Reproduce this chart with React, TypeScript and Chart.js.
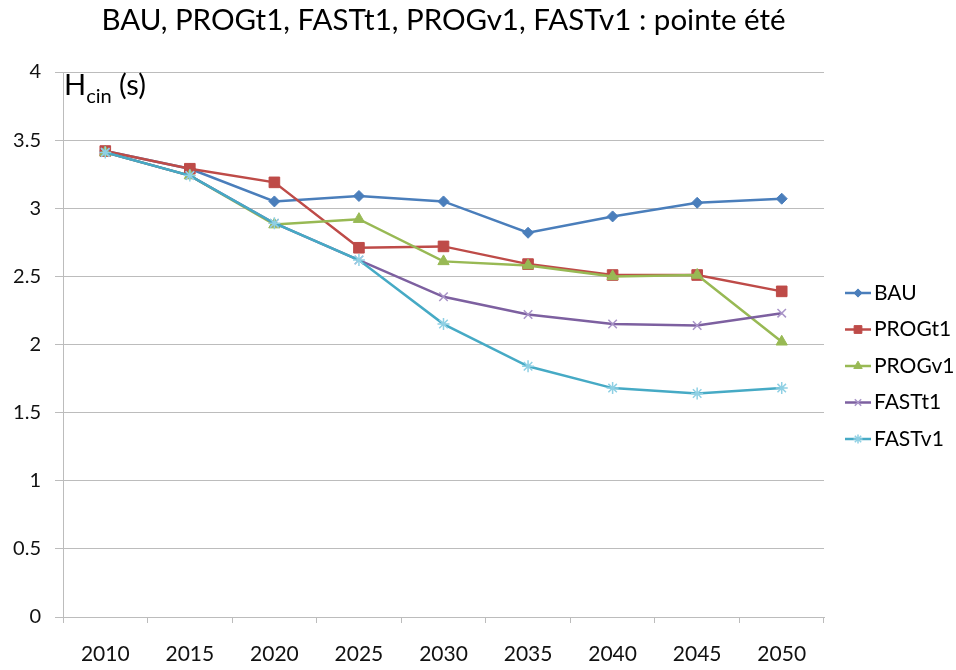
import React, { useEffect, useRef } from 'react';
import { Chart, registerables } from 'chart.js';
import { drawPoint } from 'chart.js/helpers';

Chart.register(...registerables);

const years = ['2010', '2015', '2020', '2025', '2030', '2035', '2040', '2045', '2050'];
const seriesNames = ['BAU', 'PROGt1', 'PROGv1', 'FASTt1', 'FASTv1'];
const bau = [3.42, 3.29, 3.05, 3.09, 3.05, 2.82, 2.94, 3.04, 3.07];
const progT1 = [3.42, 3.29, 3.19, 2.71, 2.72, 2.59, 2.51, 2.51, 2.39];
const progV1 = [3.41, 3.24, 2.88, 2.92, 2.61, 2.58, 2.50, 2.51, 2.02];
const fastT1 = [3.41, 3.24, 2.89, 2.62, 2.35, 2.22, 2.15, 2.14, 2.23];
const fastV1 = [3.41, 3.24, 2.89, 2.62, 2.15, 1.84, 1.68, 1.64, 1.68];
const titleText = 'BAU, PROGt1, FASTt1, PROGv1, FASTv1 : pointe été';

const FONT = 'Lato, "Open Sans", sans-serif';
const GRID = '#bcbcbc';

const lineColors = ['#4A7EBB', '#BE4B48', '#98B954', '#7D60A0', '#46AAC5'];
const pointColors = ['#4A7EBB', '#BE4B48', '#98B954', '#a994c8', '#8fd0e4'];
const pointStyles = ['rectRot', 'rect', 'triangle', 'crossRot', 'star'];
const pointRadii = [5.5, 7.5, 6.5, 6, 6];
const pointBorderWidths = [1, 1, 1, 1.5, 1.5];

const LEGEND_FONT = 21;
const LEGEND_PAD = 15.5;
const LEGEND_BOX = 24;

const yTitlePlugin = {
  id: 'yTitle',
  afterDraw(chart: any) {
    const ctx = chart.ctx;
    const { left, top } = chart.chartArea;
    ctx.save();
    ctx.fillStyle = '#000';
    ctx.textBaseline = 'alphabetic';
    ctx.textAlign = 'left';
    let x = left + 1;
    const base = top + 23;
    ctx.font = `29px ${FONT}`;
    ctx.fillText('H', x, base);
    x += ctx.measureText('H').width;
    ctx.font = `20px ${FONT}`;
    ctx.fillText('cin', x, base + 8);
    x += ctx.measureText('cin').width;
    ctx.font = `29px ${FONT}`;
    ctx.fillText(' (s)', x, base);
    ctx.restore();
  },
};

const legendMarkerPlugin = {
  id: 'legendMarkers',
  afterDraw(chart: any) {
    const legend = chart.legend;
    if (!legend || !legend.legendHitBoxes) return;
    const ctx = chart.ctx;
    legend.legendItems.forEach((item: any, i: number) => {
      const hb = legend.legendHitBoxes[i];
      if (!hb) return;
      const di = item.datasetIndex;
      const cy = hb.top + LEGEND_FONT / 2;
      const x0 = hb.left + 5.5;
      const x1 = hb.left + 31.5;
      ctx.save();
      ctx.strokeStyle = lineColors[di];
      ctx.lineWidth = 2.5;
      ctx.beginPath();
      ctx.moveTo(x0, cy);
      ctx.lineTo(x1, cy);
      ctx.stroke();
      ctx.fillStyle = pointColors[di];
      ctx.strokeStyle = pointColors[di];
      ctx.lineWidth = pointBorderWidths[di];
      drawPoint(
        ctx,
        {
          pointStyle: pointStyles[di],
          radius: Math.min(pointRadii[di] * 0.75, 5.5),
          rotation: 0,
          borderWidth: pointBorderWidths[di],
        } as any,
        (x0 + x1) / 2,
        cy
      );
      ctx.restore();
    });
  },
};

export default function App() {
  const canvasRef = useRef<HTMLCanvasElement | null>(null);

  useEffect(() => {
    document.body.style.margin = '0';
    const canvas = canvasRef.current;
    if (!canvas) return;
    const data = [bau, progT1, progV1, fastT1, fastV1];
    const chart = new Chart(canvas, {
      type: 'line',
      data: {
        labels: years,
        datasets: data.map((values, i) => ({
          label: seriesNames[i],
          data: values,
          borderColor: lineColors[i],
          backgroundColor: pointColors[i],
          pointBackgroundColor: pointColors[i],
          pointBorderColor: pointColors[i],
          pointStyle: pointStyles[i] as any,
          pointRadius: pointRadii[i],
          pointBorderWidth: pointBorderWidths[i],
          borderWidth: 2.5,
          tension: 0,
          fill: false,
          order: data.length - i,
        })),
      },
      options: {
        responsive: false,
        animation: false,
        layout: { padding: { left: 0, right: 0, top: 0, bottom: 0 } },
        plugins: {
          title: {
            display: true,
            fullSize: false,
            text: titleText,
            color: '#000',
            font: { family: FONT, size: 29.5, weight: 'normal' as any, lineHeight: 1.2 },
            padding: { top: 2.3, bottom: 34.3 },
          },
          legend: {
            position: 'right',
            align: 'center',
            maxWidth: 132,
            title: {
              display: true,
              text: ' ',
              font: { family: FONT, size: 12, lineHeight: 1 },
              padding: 25,
            },
            labels: {
              boxWidth: LEGEND_BOX,
              boxHeight: 3,
              padding: LEGEND_PAD,
              color: '#000',
              font: { family: FONT, size: LEGEND_FONT, lineHeight: 1 },
              sort: (a: any, b: any) => a.datasetIndex - b.datasetIndex,
              generateLabels: (ch: any) => {
                const items = Chart.defaults.plugins.legend.labels.generateLabels(ch);
                return items.map((it: any) => ({
                  ...it,
                  fillStyle: 'rgba(0,0,0,0)',
                  strokeStyle: 'rgba(0,0,0,0)',
                  lineWidth: 0,
                }));
              },
            },
          },
          tooltip: { enabled: false },
        },
        scales: {
          x: {
            type: 'category',
            offset: true,
            grid: {
              offset: true,
              drawOnChartArea: false,
              drawTicks: true,
              tickLength: 6,
              color: GRID,
            },
            border: { display: true, color: GRID },
            ticks: {
              color: '#111',
              font: { family: FONT, size: 21 },
              padding: 19,
              maxRotation: 0,
            },
            afterFit: (scale: any) => {
              scale.height = 53;
            },
          },
          y: {
            min: 0,
            max: 4,
            ticks: {
              stepSize: 0.5,
              color: '#111',
              font: { family: FONT, size: 20 },
              padding: 14,
              callback: (v: any) => String(Number(v)),
            },
            grid: { color: GRID, tickLength: 8, drawTicks: true },
            border: { display: true, color: GRID },
            afterFit: (scale: any) => {
              scale.width = 63;
            },
          },
        },
      },
      plugins: [yTitlePlugin, legendMarkerPlugin],
    });
    return () => chart.destroy();
  }, []);

  return (
    <div style={{ width: 956, height: 670, position: 'relative', background: '#fff' }}>
      <canvas ref={canvasRef} width={956} height={670} style={{ display: 'block' }} />
    </div>
  );
}
